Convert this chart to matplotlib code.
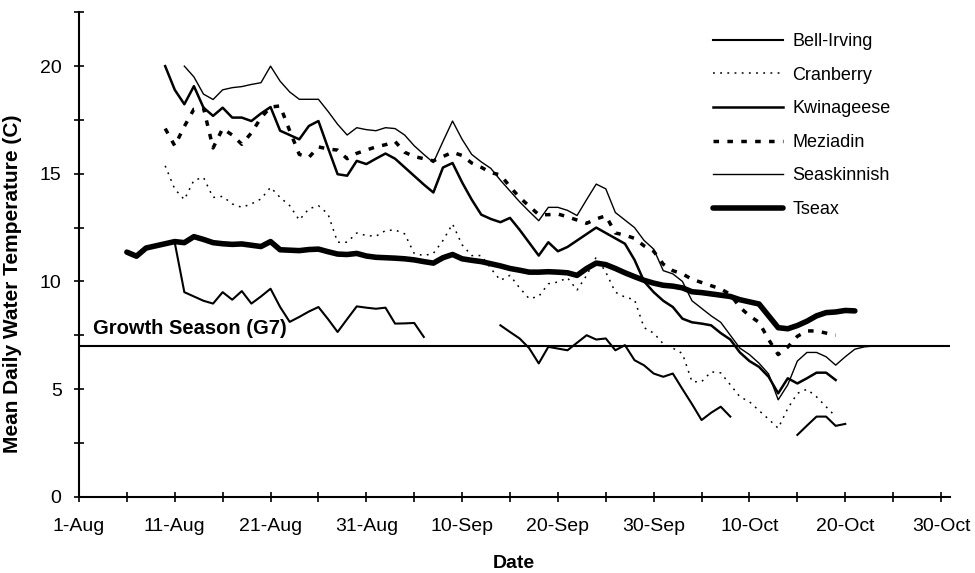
import numpy as np
import matplotlib
matplotlib.use("Agg")
import matplotlib.pyplot as plt
from datetime import date, timedelta

plt.rcParams['font.family'] = ['Liberation Sans', 'DejaVu Sans']

nan = np.nan
season_start = date(2000, 8, 1)

# first day of each record, as days after 1 Aug
tseax_start = 5
bell_irving_start = 10
cranberry_start = 9
kwinageese_start = 9
meziadin_start = 9
seaskinnish_start = 11

tseax = [11.36, 11.17, 11.55, 11.65, 11.75, 11.85, 11.8, 12.08, 11.95, 11.8,
         11.75, 11.72, 11.74, 11.68, 11.62, 11.85, 11.47, 11.45, 11.43, 11.48,
         11.5, 11.38, 11.27, 11.25, 11.3, 11.18, 11.12, 11.1, 11.08, 11.05,
         11.0, 10.92, 10.85, 11.1, 11.25, 11.05, 10.98, 10.92, 10.82, 10.72,
         10.6, 10.52, 10.43, 10.43, 10.45, 10.43, 10.4, 10.28, 10.6, 10.85,
         10.78, 10.6, 10.4, 10.22, 10.05, 9.92, 9.82, 9.78, 9.7, 9.52,
         9.48, 9.42, 9.36, 9.3, 9.15, 9.05, 8.95, 8.4, 7.85, 7.8,
         7.95, 8.15, 8.4, 8.55, 8.58, 8.65, 8.63]

bell_irving = [11.8, 9.5, 9.3, 9.1, 8.97, 9.5, 9.15, 9.55, 8.97, 9.3,
               9.66, 8.81, 8.12, 8.35, 8.6, 8.81, 8.25, 7.65, 8.25, 8.84,
               8.78, 8.73, 8.78, 8.04, 8.05, 8.07, 7.42,
               nan, nan, nan, nan, nan, nan, nan,
               7.96, 7.65, 7.35, 6.9, 6.19, 6.96, 6.88, 6.8, 7.15, 7.5,
               7.3, 7.35, 6.8, 7.04, 6.34, 6.1, 5.72, 5.57, 5.72, 5.0,
               4.3, 3.56, 3.9, 4.18, 3.72,
               nan, nan, nan, nan, nan, nan,
               2.87, 3.3, 3.72, 3.72, 3.29, 3.38]

cranberry = [15.37, 14.29, 13.8, 14.7, 14.83, 13.9, 13.95, 13.6, 13.44, 13.6,
             13.83, 14.37, 13.9, 13.52, 12.85, 13.37, 13.52, 13.13, 11.82, 11.82,
             12.25, 12.13, 12.1, 12.36, 12.39, 12.21, 11.3, 11.2, 11.3, 11.9,
             12.67, 11.7, 11.2, 11.2, 10.6, 10.05, 10.28, 9.7, 9.2, 9.3,
             9.89, 9.97, 10.17, 9.6, 10.28, 11.13, 10.43, 9.5, 9.27, 9.15,
             7.85, 7.6, 7.1, 6.9, 6.65, 5.34, 5.34, 5.8, 5.75, 5.2,
             4.64, 4.41, 4.0, 3.6, 3.18, 4.1, 4.8, 4.99, 4.64, 4.18,
             3.72]
# zero readings drawn along the axis before the records begin
cranberry_blank_days = [0, 2, 4, 6, 8, 10]
cranberry_blank = [0, 0, 0, 0, 0, 0]

kwinageese = [20.0, 18.9, 18.23, 19.07, 18.07, 17.69, 18.07, 17.61, 17.61, 17.45,
              17.8, 18.1, 17.0, 16.8, 16.6, 17.22, 17.45, 16.2, 14.98, 14.91,
              15.6, 15.45, 15.7, 15.94, 15.7, 15.3, 14.9, 14.5, 14.13, 15.29,
              15.5, 14.6, 13.8, 13.1, 12.9, 12.75, 12.95, 12.4, 11.8, 11.2,
              11.82, 11.4, 11.6, 11.9, 12.2, 12.5, 12.25, 12.0, 11.75, 11.0,
              10.0, 9.5, 9.1, 8.81, 8.27, 8.1, 8.04, 7.96, 7.6, 7.3,
              6.7, 6.3, 6.03, 5.57, 4.8, 5.5, 5.26, 5.5, 5.76, 5.76,
              5.42]

meziadin = [17.1, 16.3, 17.2, 18.0, 18.05, 16.2, 17.1, 16.8, 16.37, 16.9,
            17.6, 18.1, 18.15, 17.0, 15.9, 15.76, 16.25, 16.15, 16.1, 15.7,
            15.95, 16.1, 16.25, 16.35, 16.5, 16.0, 15.8, 15.7, 15.6, 15.8,
            16.0, 15.85, 15.5, 15.3, 15.05, 14.95, 14.4, 13.9, 13.5, 13.1,
            13.1, 13.13, 13.0, 12.85, 12.7, 12.9, 13.05, 12.25, 12.15, 12.0,
            11.65, 11.4, 10.8, 10.5, 10.35, 10.1, 9.95, 9.8, 9.65, 9.4,
            8.8, 8.4, 8.1, 7.3, 6.6, 6.95, 7.45, 7.7, 7.7, 7.6,
            7.5]

seaskinnish = [20.0, 19.5, 18.7, 18.45, 18.9, 19.0, 19.05, 19.15, 19.23, 20.0,
               19.3, 18.8, 18.46, 18.46, 18.46, 17.9, 17.3, 16.8, 17.14, 17.05,
               17.0, 17.14, 17.1, 16.8, 16.3, 15.9, 15.52, 16.5, 17.45, 16.6,
               15.9, 15.55, 15.25, 14.7, 14.2, 13.7, 13.25, 12.82, 13.44, 13.44,
               13.3, 13.06, 13.8, 14.52, 14.3, 13.2, 12.85, 12.5, 11.9, 11.5,
               10.5, 10.35, 10.0, 9.1, 8.75, 8.4, 8.1, 7.5, 6.9, 6.6,
               6.2, 5.7, 4.5, 5.2, 6.3, 6.7, 6.7, 6.5, 6.11, 6.5,
               6.85, 6.96, 7.0, 7.0, 7.0]

growth_threshold = 7
growth_label = "Growth Season (G7)"
x_tick_days = [0, 10, 20, 30, 40, 50, 60, 70, 80, 90]


def day_axis(start, values):
    return [start + i for i in range(len(values))]


fig = plt.figure(figsize=(9.75, 5.73), dpi=100)
ax = fig.add_axes([0.081, 0.1332, 0.893, 0.8453])

ax.plot(day_axis(bell_irving_start, bell_irving), bell_irving, color='black',
        lw=1.5, label='Bell-Irving')
ax.plot(day_axis(cranberry_start, cranberry), cranberry, color='black',
        lw=1.1, linestyle=(0, (1.2, 3.5)), label='Cranberry')
ax.plot(cranberry_blank_days, cranberry_blank, color='black', lw=1.1,
        linestyle=(0, (1.2, 3.5)))
ax.plot(day_axis(kwinageese_start, kwinageese), kwinageese, color='black',
        lw=1.8, label='Kwinageese')
ax.plot(day_axis(meziadin_start, meziadin), meziadin, color='black',
        lw=2.5, linestyle=(0, (1.6, 2.4)), label='Meziadin')
ax.plot(day_axis(seaskinnish_start, seaskinnish), seaskinnish, color='black',
        lw=1.0, label='Seaskinnish')
ax.plot(day_axis(tseax_start, tseax), tseax, color='black', lw=4.0,
        solid_capstyle='round', label='Tseax')

ax.axhline(growth_threshold, color='black', lw=1.5)
ax.text(1.5, growth_threshold + 0.35, growth_label, fontsize=14.5,
        fontweight='bold', va='bottom', ha='left')

ax.set_xlim(0, 90.9)
ax.set_ylim(0, 22.5)
ax.set_xticks(x_tick_days)
ax.set_xticks(np.arange(5, 91, 10), minor=True)
ax.set_xticklabels([
    '{}-{}'.format((season_start + timedelta(days=d)).day,
                   (season_start + timedelta(days=d)).strftime('%b'))
    for d in x_tick_days])
ax.set_yticks([0, 5, 10, 15, 20])
ax.set_yticks([2.5, 7.5, 12.5, 17.5, 22.5], minor=True)

for side in ['top', 'right']:
    ax.spines[side].set_visible(False)
for side in ['left', 'bottom']:
    ax.spines[side].set_linewidth(1.5)

ax.tick_params(which='both', direction='inout', length=7, width=1.2,
               labelsize=14)
ax.tick_params(axis='x', pad=12)
ax.tick_params(axis='y', pad=9)

ax.set_xlabel('Date', fontsize=14, fontweight='bold', labelpad=14)
ax.set_ylabel('Mean Daily Water Temperature (C)', fontsize=15,
              fontweight='bold')
ax.yaxis.set_label_coords(-0.065, 0.44)

ax.legend(loc='upper left', bbox_to_anchor=(713 / 975, 1 - 33 / 573),
          bbox_transform=fig.transFigure, frameon=False, fontsize=13,
          handlelength=3.9, handletextpad=0.5, labelspacing=0.92,
          borderpad=0, borderaxespad=0)

fig.savefig('out.png', dpi=100)
